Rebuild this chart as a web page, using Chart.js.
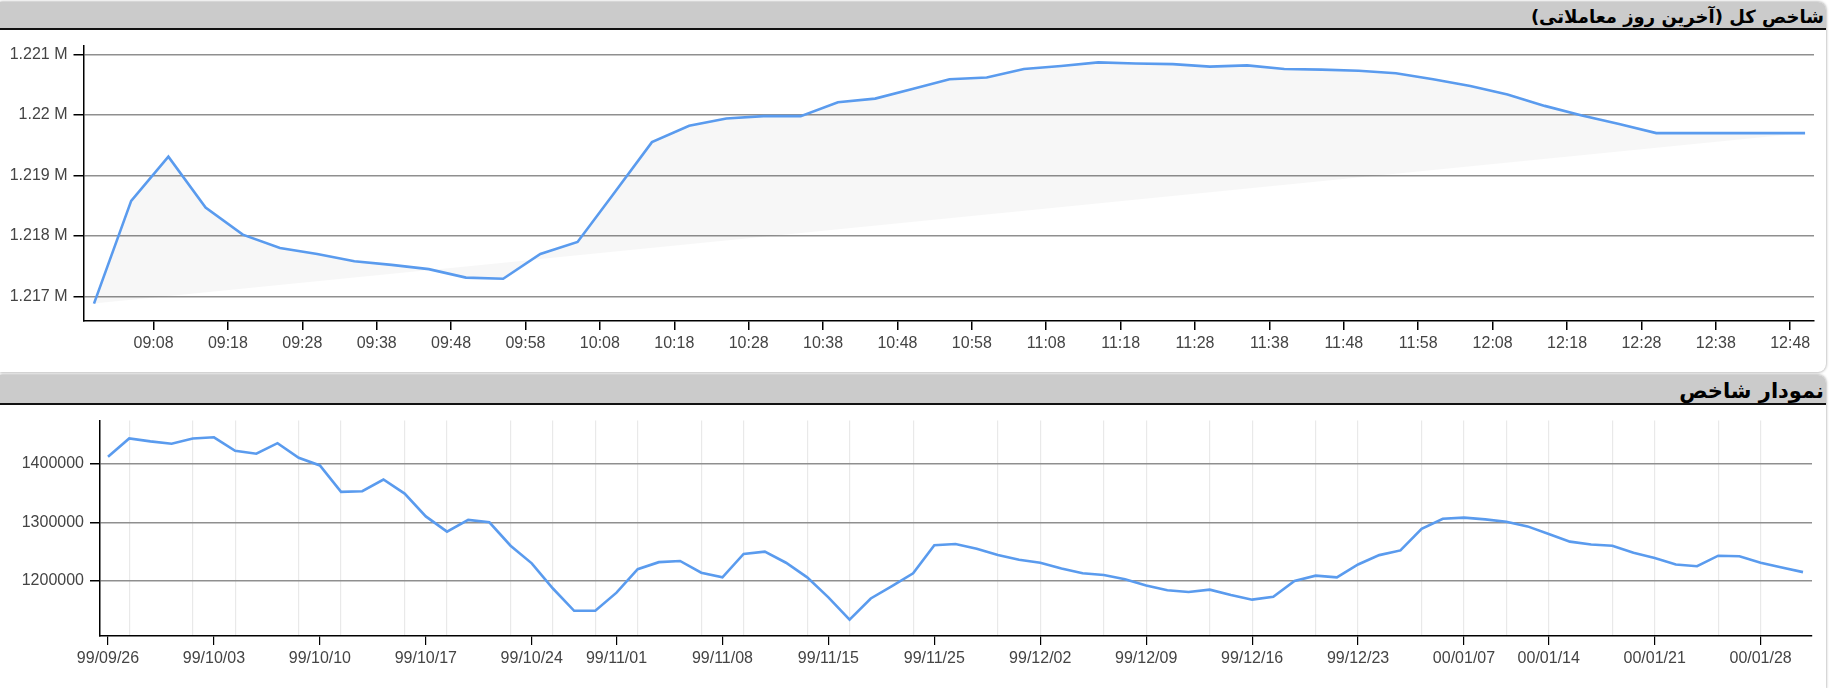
<!DOCTYPE html>
<html>
<head>
<meta charset="utf-8">
<script src="https://cdn.jsdelivr.net/npm/chart.js@4.4.0/dist/chart.umd.min.js"></script>
<style>
  body { margin: 0; width: 1833px; height: 688px; background: #fff; overflow: hidden; position: relative; }
  .panel { position: absolute; left: 0; width: 1826px; background: #fff; border-radius: 0 8px 8px 0; box-shadow: 0 0 3px rgba(0,0,0,0.45); }
  .head { position: absolute; left: 0; width: 1826px; background: #cbcbcb; border-bottom: 2px solid #111; border-radius: 0 8px 0 0;
          direction: rtl; text-align: right; font-family: "DejaVu Sans", sans-serif; color: #000; box-sizing: border-box; padding-right: 2px; }
  .box { position: absolute; left: 0; }
</style>
</head>
<body>
<div class="panel" style="top:2px;height:370px"></div>
<div class="head" style="top:2px;height:28px;font-size:18px;font-weight:bold;line-height:30px">شاخص کل (آخرین روز معاملاتی)</div>
<div class="panel" style="top:375px;height:320px"></div>
<div class="head" style="top:375px;height:30px;font-size:21px;font-weight:bold;line-height:32px">نمودار شاخص</div>
<div class="box" style="top:30px"><canvas id="intradayChart" width="1828" height="342"></canvas></div>
<div class="box" style="top:405px"><canvas id="dailyChart" width="1828" height="283"></canvas></div>
<script>
// last trading day, every 5 minutes
var sessionTimes = ['09:00','09:05','09:10','09:15','09:20','09:25','09:30','09:35','09:40','09:45',
  '09:50','09:55','10:00','10:05','10:10','10:15','10:20','10:25','10:30','10:35',
  '10:40','10:45','10:50','10:55','11:00','11:05','11:10','11:15','11:20','11:25',
  '11:30','11:35','11:40','11:45','11:50','11:55','12:00','12:05','12:10','12:15',
  '12:20','12:25','12:30','12:35','12:40','12:45','12:50'];
var sessionValues = [1216880,1218580,1219310,1218470,1218020,1217800,1217700,1217580,1217520,1217450,
  1217310,1217290,1217700,1217900,1218720,1219550,1219820,1219940,1219980,1219980,
  1220210,1220270,1220430,1220590,1220620,1220760,1220810,1220870,1220850,1220840,
  1220800,1220820,1220760,1220750,1220730,1220690,1220590,1220480,1220340,1220150,
  1219990,1219850,1219700,1219700,1219700,1219700,1219700];
var timeTicks = ['09:08','09:18','09:28','09:38','09:48','09:58','10:08','10:18','10:28','10:38','10:48',
  '10:58','11:08','11:18','11:28','11:38','11:48','11:58','12:08','12:18','12:28','12:38','12:48'];
var sessionYTicks = [1217000,1218000,1219000,1220000,1221000];

// daily index, one value per trading day
var dailyValues = [1412000,1443000,1438000,1434000,1443000,1445000,1422000,1417000,1435000,1410000,
  1397000,1352000,1353000,1373000,1349000,1310000,1284000,1304000,1300000,1260000,
  1230000,1187000,1149000,1149000,1180000,1220000,1232000,1234000,1214000,1206000,
  1246000,1250000,1231000,1206000,1172000,1134000,1170000,1191000,1213000,1261000,
  1263000,1255000,1244000,1236000,1231000,1221000,1213000,1210000,1203000,1192000,
  1184000,1181000,1185000,1176000,1168000,1173000,1200000,1209000,1206000,1228000,
  1244000,1252000,1289000,1306000,1308000,1305000,1301000,1293000,1280000,1267000,
  1262000,1260000,1248000,1239000,1228000,1225000,1243000,1242000,1231000,1223000,1215000];
var dateTickIdx = [0,5,10,15,20,24,29,34,39,44,49,54,59,64,68,73,78];
var dateTickLabels = ['99/09/26','99/10/03','99/10/10','99/10/17','99/10/24','99/11/01','99/11/08','99/11/15',
  '99/11/25','99/12/02','99/12/09','99/12/16','99/12/23','00/01/07','00/01/14','00/01/21','00/01/28'];
var dayGridIdx = [1,4,6,9,11,14,16,19,21,23,25,28,30,33,35,38,42,44,47,49,52,54,57,59,62,64,66,68,71,73,76,78];
var dailyYTicks = [1200000,1300000,1400000];

var lineBlue = '#5a9bee';
var tickFont = { family: 'Arial, "Liberation Sans"', size: 16 };

function toMin(t) {
  var p = t.split(':');
  return (+p[0]) * 60 + (+p[1]) - 540;
}

var sessionPoints = sessionTimes.map(function (t, i) { return { x: toMin(t), y: sessionValues[i] }; });
var chord = [sessionPoints[0], sessionPoints[sessionPoints.length - 1]];

new Chart(document.getElementById('intradayChart'), {
  type: 'line',
  data: {
    datasets: [{
      data: sessionPoints,
      borderColor: lineBlue,
      borderWidth: 2.6,
      pointRadius: 0,
      fill: 1,
      backgroundColor: 'rgba(0,0,0,0.032)'
    }, {
      data: chord,
      borderWidth: 0,
      borderColor: 'rgba(0,0,0,0)',
      pointRadius: 0,
      fill: false
    }]
  },
  options: {
    responsive: false,
    animation: false,
    events: [],
    layout: { padding: { top: 12, right: 14, left: 0, bottom: 0 } },
    plugins: { legend: { display: false }, tooltip: { enabled: false } },
    scales: {
      x: {
        type: 'linear',
        min: -1.41,
        max: 231.2,
        afterBuildTicks: function (scale) {
          scale.ticks = timeTicks.map(function (t) { return { value: toMin(t) }; });
        },
        afterFit: function (scale) { scale.height = 51; },
        ticks: {
          autoSkip: false, maxRotation: 0, color: '#444', font: tickFont, padding: 4,
          callback: function (v) {
            var i = timeTicks.map(toMin).indexOf(v);
            return i >= 0 ? timeTicks[i] : '';
          }
        },
        grid: { drawOnChartArea: false, tickLength: 9, tickColor: '#000', lineWidth: 1.5 },
        border: { color: '#000', width: 1.5 }
      },
      y: {
        min: 1216592,
        max: 1221147,
        afterBuildTicks: function (scale) {
          scale.ticks = sessionYTicks.map(function (v) { return { value: v }; });
        },
        afterFit: function (scale) { scale.width = 83.5; },
        ticks: {
          color: '#444', font: tickFont, padding: 6,
          callback: function (v) { return +(v / 1e6).toFixed(3) + ' M'; }
        },
        grid: { color: '#8f8f8f', lineWidth: 1.5, tickLength: 10, tickColor: '#000' },
        border: { color: '#000', width: 1.5 }
      }
    }
  }
});

var dailyPoints = dailyValues.map(function (v, i) { return { x: i, y: v }; });

new Chart(document.getElementById('dailyChart'), {
  type: 'line',
  data: {
    datasets: [{
      data: dailyPoints,
      borderColor: lineBlue,
      borderWidth: 2.6,
      pointRadius: 0,
      fill: false
    }]
  },
  options: {
    responsive: false,
    animation: false,
    events: [],
    layout: { padding: { top: 15, right: 16, left: 0, bottom: 0 } },
    plugins: { legend: { display: false }, tooltip: { enabled: false } },
    scales: {
      x: {
        type: 'linear',
        min: -0.378,
        max: 80.425,
        afterBuildTicks: function (scale) {
          var all = dateTickIdx.concat(dayGridIdx).filter(function (v, i, a) { return a.indexOf(v) === i; });
          all.sort(function (a, b) { return a - b; });
          scale.ticks = all.map(function (v) { return { value: v }; });
        },
        afterFit: function (scale) { scale.height = 52; },
        ticks: {
          autoSkip: false, maxRotation: 0, color: '#444', font: tickFont, padding: 4,
          callback: function (v) {
            var i = dateTickIdx.indexOf(v);
            return i >= 0 ? dateTickLabels[i] : '';
          }
        },
        grid: {
          tickLength: 9,
          lineWidth: 1.2,
          color: function (ctx) {
            return ctx.tick && dayGridIdx.indexOf(ctx.tick.value) >= 0 ? '#e9e9e9' : 'rgba(0,0,0,0)';
          },
          tickColor: function (ctx) {
            return ctx.tick && dateTickIdx.indexOf(ctx.tick.value) >= 0 ? '#000' : 'rgba(0,0,0,0)';
          }
        },
        border: { color: '#000', width: 1.5 }
      },
      y: {
        min: 1105983,
        max: 1473504,
        afterBuildTicks: function (scale) {
          scale.ticks = dailyYTicks.map(function (v) { return { value: v }; });
        },
        afterFit: function (scale) { scale.width = 100; },
        ticks: {
          color: '#444', font: tickFont, padding: 6,
          callback: function (v) { return String(v); }
        },
        grid: { color: '#8f8f8f', lineWidth: 1.5, tickLength: 10, tickColor: '#000' },
        border: { color: '#000', width: 1.5 }
      }
    }
  }
});
</script>
</body>
</html>
